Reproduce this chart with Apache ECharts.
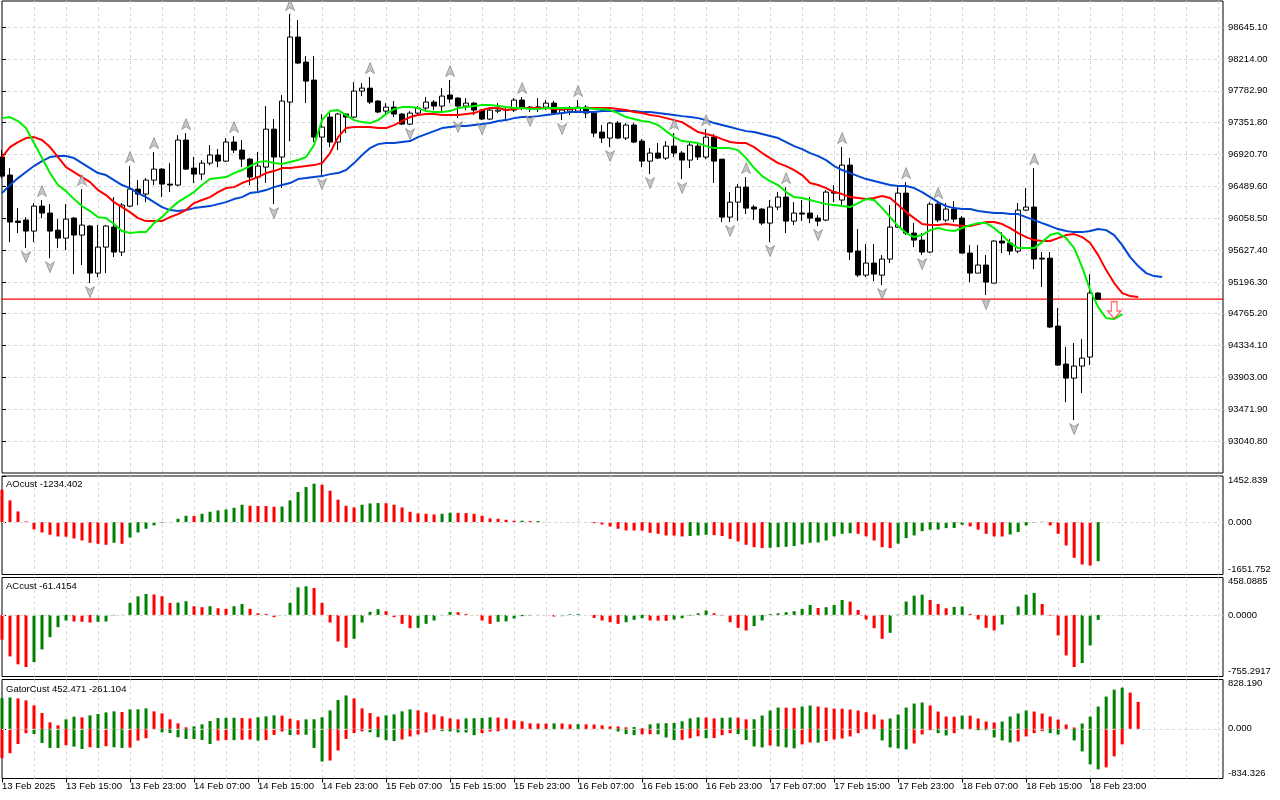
<!DOCTYPE html>
<html>
<head>
<meta charset="utf-8">
<script src="https://cdn.jsdelivr.net/npm/echarts@6.0.0/dist/echarts.min.js"></script>
<style>
  html, body { margin: 0; padding: 0; background: #fff; }
  #chart { width: 1280px; height: 800px; }
</style>
</head>
<body>
<div id="chart"></div>
<script>
// BTC H1, 13 Feb 07:00 .. 19 Feb 00:00, one entry per bar
const timeLabels = ['13 Feb 2025', '13 Feb 15:00', '13 Feb 23:00', '14 Feb 07:00', '14 Feb 15:00', '14 Feb 23:00',
  '15 Feb 07:00', '15 Feb 15:00', '15 Feb 23:00', '16 Feb 07:00', '16 Feb 15:00', '16 Feb 23:00',
  '17 Feb 07:00', '17 Feb 15:00', '17 Feb 23:00', '18 Feb 07:00', '18 Feb 15:00', '18 Feb 23:00'];

const opens = [96886, 96642, 96020, 96033, 95884, 96222, 96128, 95897, 95789, 96060,
  95830, 95952, 95315, 95667, 95938, 95600, 96222, 96452, 96385, 96574,
  96723, 96520, 96507, 97116, 96737, 96655, 96804, 96913, 96831, 97089,
  96980, 96858, 96615, 96750, 97264, 96886, 97630, 98510, 98171, 97928,
  97156, 97427, 97089, 97468, 97427, 97779, 97819, 97644, 97508, 97562,
  97468, 97332, 97481, 97549, 97630, 97576, 97725, 97684, 97576, 97616,
  97522, 97400, 97508, 97522, 97522, 97657, 97549, 97562, 97562, 97616,
  97481, 97508, 97508, 97562, 97481, 97224, 97143, 97346, 97143, 97319,
  97102, 96831, 96940, 96872, 97034, 96940, 96845, 97034, 96886, 97156,
  96858, 96073, 96276, 96479, 96209, 96182, 95992, 96209, 96344, 96019,
  96128, 96128, 96060, 96033, 96412, 96304, 96777, 95613, 95288, 95451,
  95288, 95505, 95938, 96398, 95857, 95762, 95600, 96249, 96033, 96182,
  96060, 95586, 95315, 95424, 95180, 95749, 95722, 95613, 96168, 96209,
  95518, 95518, 94598, 94084, 93894, 94057, 94179, 95045];
const closes = [96628, 96006, 96000, 95884, 96222, 96128, 95884, 95789, 96046, 95830,
  95965, 95315, 95667, 95952, 95600, 96236, 96452, 96385, 96574, 96723,
  96520, 96507, 97116, 96723, 96655, 96804, 96913, 96831, 97089, 96980,
  96858, 96615, 96764, 97264, 96886, 97644, 98510, 98158, 97914, 97156,
  97292, 97089, 97468, 97427, 97779, 97819, 97630, 97495, 97562, 97468,
  97332, 97481, 97549, 97630, 97576, 97711, 97671, 97576, 97616, 97522,
  97400, 97522, 97522, 97522, 97657, 97549, 97562, 97562, 97616, 97481,
  97522, 97535, 97562, 97481, 97210, 97143, 97346, 97143, 97319, 97089,
  96831, 96940, 96872, 97034, 96940, 96845, 97048, 96886, 97156, 96831,
  96073, 96276, 96479, 96195, 96182, 95992, 96209, 96344, 96019, 96128,
  96114, 96060, 96019, 96412, 96398, 96777, 95600, 95288, 95451, 95302,
  95505, 95938, 96398, 95857, 95762, 95600, 96249, 96033, 96182, 96046,
  95586, 95315, 95424, 95194, 95749, 95722, 95613, 96168, 96209, 95505,
  95505, 94585, 94070, 93894, 94057, 94165, 95045, 94962.8];
const lows = [96601, 95735, 95857, 95654, 95735, 96060, 95518, 95654, 95627, 95302,
  95424, 95180, 95261, 95315, 95532, 95546, 96209, 96236, 96276, 96507,
  96344, 96412, 96493, 96710, 96534, 96574, 96777, 96750, 96818, 96940,
  96750, 96507, 96425, 96534, 96249, 96466, 97102, 98144, 97616, 97089,
  96642, 97021, 96980, 97210, 97413, 97711, 97603, 97481, 97454, 97427,
  97319, 97319, 97454, 97522, 97522, 97495, 97616, 97413, 97522, 97454,
  97386, 97386, 97481, 97386, 97495, 97522, 97495, 97495, 97522, 97481,
  97386, 97454, 97481, 97413, 97156, 97075, 97021, 97129, 97116, 97075,
  96750, 96655, 96858, 96845, 96886, 96588, 96737, 96845, 96858, 96534,
  96006, 96006, 96019, 96114, 96033, 95965, 95735, 96168, 95857, 95965,
  96019, 95992, 95952, 96019, 96276, 96236, 95491, 95261, 95261, 95207,
  95153, 95451, 95925, 95830, 95667, 95559, 95586, 96006, 96006, 96006,
  95586, 95194, 95315, 95018, 95180, 95586, 95559, 95586, 96155, 95370,
  95126, 94571, 94057, 93569, 93326, 93691, 94070, 94950];
const highs = [96980, 96737, 96195, 96073, 96263, 96304, 96249, 96046, 96249, 96073,
  96452, 95965, 95965, 95965, 96344, 96263, 96764, 96574, 96601, 96953,
  96737, 96804, 97183, 97210, 96886, 96845, 97048, 96994, 97143, 97170,
  97116, 96872, 96953, 97576, 97400, 97725, 98821, 98740, 98253, 98253,
  97468, 97481, 97481, 97481, 97901, 97887, 97968, 97657, 97616, 97644,
  97481, 97508, 97576, 97698, 97657, 97819, 97928, 97698, 97684, 97630,
  97535, 97562, 97616, 97549, 97684, 97698, 97576, 97684, 97657, 97644,
  97549, 97576, 97657, 97589, 97495, 97319, 97359, 97373, 97346, 97346,
  97129, 97007, 97075, 97102, 97210, 96967, 97089, 97089, 97264, 97197,
  96858, 96412, 96520, 96615, 96236, 96195, 96304, 96412, 96479, 96276,
  96304, 96344, 96100, 96439, 96507, 97021, 96872, 95911, 95708, 95708,
  95559, 96236, 96479, 96547, 95992, 95857, 96276, 96276, 96263, 96290,
  96087, 95694, 95694, 95559, 95762, 95870, 95776, 96263, 96466, 96737,
  95600, 95600, 94842, 94314, 94368, 94422, 95302, 95058];

// Alligator, already shifted forward (lips +3, teeth +5, jaw +8 bars)
const jaw = [96398, 96507, 96601, 96683, 96764, 96831, 96886, 96899, 96899, 96872,
  96804, 96737, 96669, 96642, 96574, 96507, 96466, 96398, 96344, 96276,
  96209, 96168, 96155, 96168, 96195, 96209, 96222, 96249, 96276, 96317,
  96344, 96398, 96412, 96439, 96479, 96507, 96534, 96588, 96601, 96615,
  96628, 96655, 96669, 96710, 96804, 96913, 97007, 97061, 97075, 97075,
  97089, 97102, 97156, 97197, 97237, 97278, 97292, 97305, 97305, 97319,
  97332, 97346, 97373, 97386, 97413, 97427, 97427, 97440, 97454, 97468,
  97481, 97495, 97495, 97495, 97495, 97508, 97508, 97508, 97508, 97508,
  97495, 97495, 97481, 97468, 97454, 97440, 97427, 97413, 97386, 97346,
  97319, 97292, 97264, 97237, 97224, 97197, 97170, 97143, 97089, 97034,
  96994, 96940, 96899, 96845, 96764, 96710, 96669, 96628, 96588, 96561,
  96534, 96507, 96493, 96493, 96466, 96412, 96344, 96276, 96222, 96195,
  96182, 96182, 96155, 96141, 96128, 96128, 96114, 96114, 96073, 96033,
  95992, 95952, 95911, 95884, 95870, 95870, 95884, 95911, 95897, 95830,
  95694, 95532, 95410, 95315, 95275, 95261];
const teeth = [96886, 97021, 97089, 97143, 97156, 97116, 97021, 96886, 96750, 96683,
  96615, 96547, 96439, 96371, 96276, 96209, 96141, 96060, 96019, 96019,
  96019, 96073, 96114, 96168, 96263, 96304, 96344, 96412, 96466, 96479,
  96534, 96574, 96615, 96669, 96696, 96737, 96737, 96750, 96764, 96777,
  96804, 96940, 97156, 97278, 97292, 97292, 97292, 97278, 97278, 97319,
  97373, 97427, 97454, 97468, 97468, 97454, 97454, 97454, 97468, 97481,
  97522, 97549, 97549, 97522, 97535, 97549, 97549, 97549, 97549, 97535,
  97535, 97535, 97549, 97549, 97549, 97549, 97549, 97535, 97522, 97495,
  97481, 97454, 97440, 97413, 97386, 97359, 97292, 97224, 97197, 97170,
  97129, 97089, 97075, 97075, 97021, 96940, 96872, 96804, 96764, 96710,
  96642, 96534, 96507, 96466, 96412, 96385, 96344, 96331, 96317, 96331,
  96358, 96331, 96236, 96141, 96060, 95979, 95965, 95965, 95979, 95965,
  95952, 95952, 95979, 96006, 96006, 95979, 95925, 95857, 95803, 95762,
  95749, 95749, 95789, 95830, 95843, 95803, 95722, 95559, 95356, 95180,
  95045, 95004, 94991];
const lips = [97413, 97427, 97373, 97278, 97075, 96872, 96669, 96507, 96425, 96317,
  96222, 96155, 96073, 96060, 95979, 95884, 95857, 95870, 95870, 95992,
  96073, 96182, 96276, 96344, 96412, 96507, 96588, 96601, 96615, 96669,
  96710, 96764, 96818, 96831, 96804, 96791, 96818, 96845, 96886, 97048,
  97386, 97508, 97522, 97454, 97386, 97359, 97346, 97386, 97468, 97535,
  97562, 97562, 97549, 97508, 97495, 97495, 97508, 97549, 97562, 97576,
  97589, 97589, 97576, 97562, 97549, 97549, 97535, 97535, 97549, 97549,
  97549, 97549, 97549, 97549, 97535, 97535, 97522, 97481, 97427, 97400,
  97373, 97359, 97319, 97237, 97156, 97102, 97089, 97075, 97034, 97007,
  97007, 97007, 96980, 96872, 96737, 96628, 96561, 96507, 96412, 96344,
  96331, 96304, 96276, 96249, 96236, 96222, 96209, 96263, 96317, 96304,
  96195, 96073, 95952, 95857, 95803, 95830, 95897, 95925, 95897, 95884,
  95925, 95965, 95992, 95992, 95925, 95830, 95722, 95654, 95654, 95654,
  95735, 95830, 95857, 95789, 95654, 95397, 95085, 94855, 94706, 94693,
  94761];

const fractalUp = [5, 10, 16, 19, 23, 29, 36, 46, 56, 65, 72, 84, 88, 93, 98, 105, 113, 117, 129];
const fractalDown = [3, 6, 11, 34, 40, 51, 57, 60, 66, 70, 76, 81, 85, 91, 96, 102, 110, 115, 123, 134];
const sellSignal = [139];

const ao = [1020, 684, 337, 21, -231, -326, -400, -452, -460, -515,
  -579, -652, -684, -715, -652, -684, -484, -326, -210, -105,
  -21, 5, 105, 200, 195, 263, 326, 368, 400, 452,
  547, 515, 510, 505, 484, 490, 684, 947, 1105, 1210,
  1178, 989, 705, 515, 463, 547, 589, 600, 595, 547,
  463, 326, 274, 263, 242, 263, 295, 290, 285, 263,
  200, 116, 105, 74, 42, 45, 32, 35, 5, 2,
  -3, 4, 6, -10, -32, -74, -137, -210, -263, -265,
  -268, -337, -368, -421, -425, -452, -440, -420, -400, -410,
  -440, -530, -610, -715, -790, -820, -810, -790, -780, -755,
  -705, -650, -645, -580, -450, -370, -350, -370, -450, -580,
  -790, -820, -680, -505, -420, -285, -240, -235, -190, -185,
  -85, -137, -240, -368, -452, -455, -390, -315, -105, -20,
  10, -105, -368, -736, -1126, -1336, -1370, -1234.402];
const ac = [-305, -509, -606, -639, -578, -423, -273, -151, -69, -81,
  -85, -94, -85, -81, -5, -2, 147, 228, 256, 250,
  228, 147, 150, 167, 106, 94, 106, 81, 74, 106,
  134, 74, 20, 12, -28, -2, 147, 338, 350, 330,
  147, -94, -326, -403, -293, -94, 37, 69, 45, -28,
  -110, -163, -159, -110, -69, -8, 37, 33, 12, -2,
  -69, -110, -85, -80, -45, -16, -8, -4, 0, -20,
  -16, 8, 10, 0, -37, -69, -90, -110, -90, -61,
  -41, -69, -71, -73, -57, -41, -8, 20, 53, 20,
  -8, -90, -159, -191, -138, -69, 10, 20, 33, 45,
  73, 122, 85, 94, 122, 183, 163, 61, -57, -163,
  -293, -220, 4, 163, 236, 248, 183, 134, 81, 98,
  102, 12, -57, -159, -191, -118, 0, 102, 248, 269,
  134, -8, -252, -497, -639, -590, -374, -61.4154];
const gatorUp = [516, 527, 511, 477, 393, 265, 109, 59, 159, 204,
  193, 226, 248, 276, 293, 282, 326, 328, 343, 293,
  259, 159, 92, 25, 42, 75, 131, 181, 184, 186,
  180, 176, 193, 209, 226, 222, 170, 142, 159, 160,
  193, 310, 483, 561, 511, 343, 265, 204, 226, 243,
  293, 326, 310, 276, 243, 209, 176, 159, 176, 178,
  180, 193, 190, 176, 142, 126, 92, 90, 88, 92,
  90, 75, 78, 75, 72, 59, 42, 40, 25, 30,
  10, 75, 92, 95, 98, 126, 176, 193, 190, 176,
  185, 190, 188, 159, 160, 223, 307, 357, 355, 352,
  374, 391, 374, 357, 340, 338, 324, 307, 279, 240,
  156, 173, 240, 357, 424, 441, 391, 290, 206, 204,
  223, 220, 173, 123, 106, 123, 206, 257, 307, 290,
  257, 206, 156, 73, 22, 89, 206, 374, 541, 658,
  692, 608, 452.471];
const gatorDown = [-494, -410, -254, -75, -87, -237, -321, -323, -276, -299,
  -338, -310, -321, -293, -310, -321, -315, -198, -159, -8,
  -59, -70, -142, -170, -172, -187, -254, -198, -187, -190,
  -185, -180, -198, -187, -103, -45, -103, -98, -100, -321,
  -550, -533, -365, -170, -70, -42, -59, -142, -190, -206,
  -179, -128, -95, -61, -20, -39, -45, -61, -62, -106,
  -73, -45, -42, -5, -8, -2, -3, -4, -5, -8,
  -5, -6, -7, -5, -4, -3, -8, -45, -89, -106,
  -92, -90, -92, -145, -187, -185, -159, -126, -159, -155,
  -106, -73, -87, -187, -296, -312, -279, -296, -312, -329,
  -262, -229, -232, -206, -179, -162, -128, -73, -6, -4,
  -195, -312, -329, -346, -246, -95, -22, -73, -112, -73,
  -6, -4, -22, -24, -145, -195, -229, -212, -128, -73,
  -39, -73, -95, -6, -195, -379, -597, -681, -647, -463,
  -261.104];

const priceTicks = [93040.8, 93471.9, 93903.0, 94334.1, 94765.2, 95196.3, 95627.4,
  96058.5, 96489.6, 96920.7, 97351.8, 97782.9, 98214.0, 98645.1];
const lastPrice = 94962.8;
const aoTicks = [-1651.752, 0, 1452.839];
const acTicks = [-755.2917, 0, 458.0885];
const gatorTicks = [-834.326, 0, 828.19];

const FONT = 'Liberation Sans';
const FS = 9.5;
const GRID_C = '#d6d6d6';
const GREEN = '#008000';
const RED = '#ff0000';
const X_MAX = 152.6;
const Y_MIN = 92609.7;
const Y_MAX = 98998.2;

const chart = echarts.init(document.getElementById('chart'), null, { renderer: 'canvas' });

const xy = arr => arr.map((v, i) => [i, v]);

// AO / AC: green when the bar rises
function risingBars(vals, firstColor) {
  return vals.map((v, i) => ({
    value: [i, v],
    itemStyle: { color: i === 0 ? firstColor : (v > vals[i - 1] ? GREEN : RED) }
  }));
}
// Gator: green when the bar grows in size
function growingBars(vals, firstColor) {
  return vals.map((v, i) => ({
    value: [i, v],
    itemStyle: { color: i === 0 ? firstColor : (Math.abs(v) > Math.abs(vals[i - 1]) ? GREEN : RED) }
  }));
}

const dashed = { color: GRID_C, type: [3, 3], width: 1 };

function gridBox(top, height) {
  return { left: 2, right: 57, top: top, height: height, show: true, borderColor: '#000', borderWidth: 1,
    backgroundColor: '#fff', containLabel: false, outerBoundsMode: 'none' };
}

function xAxisFor(gridIndex) {
  return {
    type: 'value', gridIndex: gridIndex, min: 0, max: X_MAX, interval: 4,
    axisLine: { show: false }, axisTick: { show: false }, axisLabel: { show: false },
    splitLine: { show: true, showMinLine: false, showMaxLine: false, lineStyle: dashed }
  };
}

function panelYAxis(gridIndex, ticks, digits) {
  return {
    type: 'value', gridIndex: gridIndex, position: 'right', min: ticks[0], max: ticks[2],
    axisLine: { show: false },
    axisTick: { show: true, length: 4, customValues: ticks, lineStyle: { color: '#000' } },
    axisLabel: {
      customValues: ticks, fontSize: FS, fontFamily: FONT, color: '#000', margin: 5,
      formatter: v => {
        const s = v.toFixed(digits);
        if (v > 0) return '{t|' + s + '}';
        if (v < 0) return '{b|' + s + '}';
        return s;
      },
      rich: { t: { padding: [8, 0, 0, 0] }, b: { padding: [0, 0, 10, 0] } }
    },
    splitLine: { show: false }
  };
}

const zeroLine = {
  silent: true, symbol: 'none', animation: false,
  label: { show: false },
  lineStyle: dashed,
  data: [{ yAxis: 0 }]
};

const ARROW = 'path://M5,0 L10,11 L5,8 L0,11 Z';
const BLOCK_DOWN = 'path://M4,0 L10,0 L10,10 L14,10 L7,18 L0,10 L4,10 Z';

const option = {
  animation: false,
  backgroundColor: '#fff',
  textStyle: { fontFamily: FONT },
  grid: [gridBox(1, 472), gridBox(476, 98.5), gridBox(577.5, 99), gridBox(679.5, 99)],
  xAxis: [
    xAxisFor(0), xAxisFor(1), xAxisFor(2), xAxisFor(3),
    {
      type: 'value', gridIndex: 3, min: 0, max: X_MAX, position: 'bottom',
      axisLine: { show: false },
      axisTick: { show: true, length: 4, customValues: timeLabels.map((_, k) => k * 8), lineStyle: { color: '#000' } },
      axisLabel: {
        customValues: timeLabels.map((_, k) => k * 8), align: 'left', margin: 3,
        fontSize: FS, fontFamily: FONT, color: '#000',
        formatter: v => timeLabels[Math.round(v / 8)] || ''
      },
      splitLine: { show: false }
    }
  ],
  yAxis: [
    {
      type: 'value', gridIndex: 0, position: 'right', min: Y_MIN, max: Y_MAX,
      axisLine: { show: false },
      axisTick: { show: true, length: 4, customValues: priceTicks, lineStyle: { color: '#000' } },
      axisLabel: { customValues: priceTicks, formatter: v => v.toFixed(2), fontSize: FS, fontFamily: FONT, color: '#000', margin: 5 },
      splitLine: { show: true, lineStyle: dashed }
    },
    panelYAxis(1, aoTicks, 3),
    panelYAxis(2, acTicks, 4),
    panelYAxis(3, gatorTicks, 3)
  ],
  graphic: [
    { type: 'text', left: 6, top: 479, z: 100, style: { text: 'AOcust -1234.402', font: FS + 'px ' + FONT, fill: '#000' } },
    { type: 'text', left: 6, top: 581, z: 100, style: { text: 'ACcust -61.4154', font: FS + 'px ' + FONT, fill: '#000' } },
    { type: 'text', left: 6, top: 684, z: 100, style: { text: 'GatorCust 452.471 -261.104', font: FS + 'px ' + FONT, fill: '#000' } }
  ],
  series: [
    {
      type: 'candlestick', xAxisIndex: 0, yAxisIndex: 0,
      data: opens.map((o, i) => [i, o, closes[i], lows[i], highs[i]]),
      encode: { x: 0, y: [1, 2, 3, 4] },
      barWidth: 5,
      itemStyle: { color: '#ffffff', color0: '#000000', borderColor: '#000000', borderColor0: '#000000', borderWidth: 1 },
      z: 2
    },
    // last price: red line across the panel plus its tag on the price scale
    {
      type: 'line', xAxisIndex: 0, yAxisIndex: 0,
      data: [[0, lastPrice], [X_MAX, lastPrice]],
      symbol: 'none', color: RED,
      lineStyle: { color: RED, width: 1.4 },
      markLine: {
        silent: true, symbol: 'none', animation: false,
        lineStyle: { opacity: 0 },
        label: {
          show: true, position: 'end', distance: 2, formatter: lastPrice.toFixed(2),
          color: '#fff', backgroundColor: '#cc0000', padding: [2, 3, 1, 3], fontSize: FS, fontFamily: FONT
        },
        data: [{ yAxis: lastPrice }]
      },
      z: 2
    },
    { type: 'line', xAxisIndex: 0, yAxisIndex: 0, data: xy(jaw), symbol: 'none', lineStyle: { color: '#0047d4', width: 2 }, z: 3 },
    { type: 'line', xAxisIndex: 0, yAxisIndex: 0, data: xy(teeth), symbol: 'none', lineStyle: { color: '#ff0000', width: 2 }, z: 3 },
    { type: 'line', xAxisIndex: 0, yAxisIndex: 0, data: xy(lips), symbol: 'none', lineStyle: { color: '#00ee00', width: 2 }, z: 3 },
    {
      type: 'scatter', xAxisIndex: 0, yAxisIndex: 0,
      data: fractalUp.map(i => [i, highs[i]]),
      symbol: ARROW, symbolSize: [9, 11], symbolOffset: [0, -9],
      itemStyle: { color: '#b8b8b8', borderColor: '#7a7a7a', borderWidth: 0.8 }, z: 4
    },
    {
      type: 'scatter', xAxisIndex: 0, yAxisIndex: 0,
      data: fractalDown.map(i => [i, lows[i]]),
      symbol: ARROW, symbolRotate: 180, symbolSize: [9, 11], symbolOffset: [0, 9],
      itemStyle: { color: '#b8b8b8', borderColor: '#7a7a7a', borderWidth: 0.8 }, z: 4
    },
    {
      type: 'scatter', xAxisIndex: 0, yAxisIndex: 0,
      data: sellSignal.map(i => [i, lips[i]]),
      symbol: BLOCK_DOWN, symbolSize: [13, 17], symbolOffset: [0, -9],
      itemStyle: { color: '#ffffff', borderColor: '#ff5050', borderWidth: 1.4 }, z: 5
    },
    {
      type: 'bar', xAxisIndex: 1, yAxisIndex: 1, data: risingBars(ao, RED), barWidth: 3,
      markLine: zeroLine
    },
    {
      type: 'bar', xAxisIndex: 2, yAxisIndex: 2, data: risingBars(ac, RED), barWidth: 3,
      markLine: zeroLine
    },
    {
      type: 'bar', xAxisIndex: 3, yAxisIndex: 3, data: growingBars(gatorUp, GREEN), barWidth: 3, barGap: '-100%',
      markLine: zeroLine
    },
    {
      type: 'bar', xAxisIndex: 3, yAxisIndex: 3, data: growingBars(gatorDown, RED), barWidth: 3, barGap: '-100%'
    }
  ]
};

chart.setOption(option);
</script>
</body>
</html>
